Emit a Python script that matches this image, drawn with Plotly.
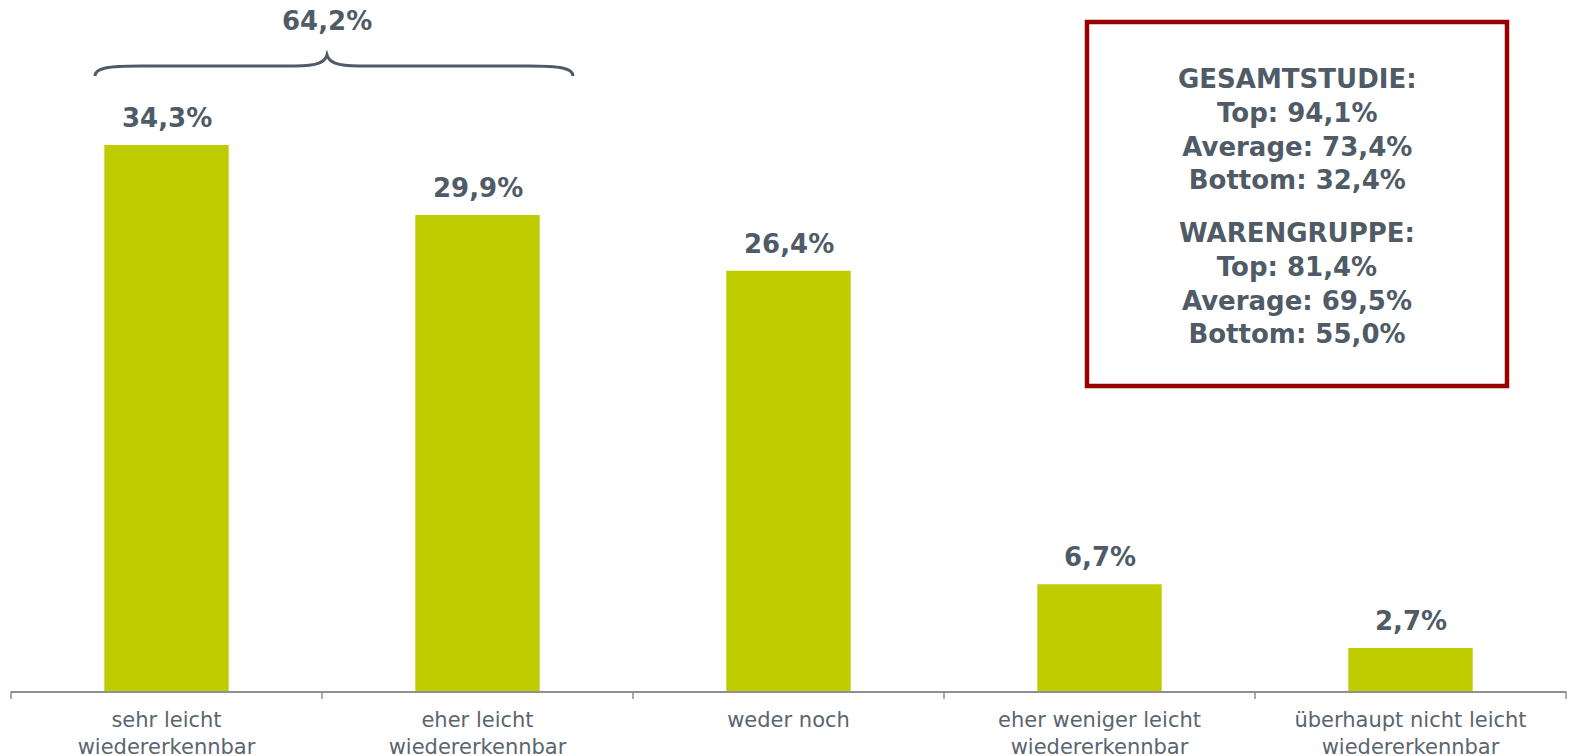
import plotly.graph_objects as go

# ---- data ----
categories = ["sehr leicht<br>wiedererkennbar", "eher leicht<br>wiedererkennbar", "weder noch",
              "eher weniger leicht<br>wiedererkennbar", "überhaupt nicht leicht<br>wiedererkennbar"]
values = [34.3, 29.9, 26.4, 6.7, 2.7]
top2_label = "64,2%"
box_block1 = ["GESAMTSTUDIE:", "Top: 94,1%", "Average: 73,4%", "Bottom: 32,4%"]
box_block2 = ["WARENGRUPPE:", "Top: 81,4%", "Average: 69,5%", "Bottom: 55,0%"]

W, H = 1569, 756
ML, MR, MT, MB = 11, 3, 0, 65
PW, PH = W - ML - MR, H - MT - MB

BAR = "#bfcd00"
TXT = "#4f5b66"
LBL = "#5a6570"
FONT = "DejaVu Sans"


def px(x):
    return (x - ML) / PW


def py(y):
    return (MT + PH - y) / PH


def fmt(v):
    return f"{v:.1f}".replace(".", ",") + "%"


fig = go.Figure()
fig.add_trace(go.Bar(x=list(range(len(categories))), y=values, marker_color=BAR,
                     marker_line_width=0, hoverinfo="skip"))

for i, v in enumerate(values):
    fig.add_annotation(x=i, y=v, xref="x", yref="y", text=f"<b>{fmt(v)}</b>",
                       showarrow=False, yanchor="bottom", xanchor="center", yshift=10,
                       font=dict(family=FONT, size=26, color=TXT))

# brace over the first two bars
pts = [(95, 76), (95, 68), (108, 66), (140, 66), (295, 66), (318, 66), (325, 62), (327, 55),
       (329, 62), (336, 66), (359, 66), (528, 66), (560, 66), (573, 68), (573, 76)]
P = [(px(a), py(b)) for a, b in pts]
path = (f"M {P[0][0]},{P[0][1]} C {P[1][0]},{P[1][1]} {P[2][0]},{P[2][1]} {P[3][0]},{P[3][1]} "
        f"L {P[4][0]},{P[4][1]} C {P[5][0]},{P[5][1]} {P[6][0]},{P[6][1]} {P[7][0]},{P[7][1]} "
        f"C {P[8][0]},{P[8][1]} {P[9][0]},{P[9][1]} {P[10][0]},{P[10][1]} "
        f"L {P[11][0]},{P[11][1]} C {P[12][0]},{P[12][1]} {P[13][0]},{P[13][1]} {P[14][0]},{P[14][1]}")
fig.add_shape(type="path", path=path, xref="paper", yref="paper",
              line=dict(color=TXT, width=3))
fig.add_annotation(x=px(327), y=py(21), xref="paper", yref="paper", text=f"<b>{top2_label}</b>",
                   showarrow=False, xanchor="center", yanchor="middle",
                   font=dict(family=FONT, size=26, color=TXT))

# info box
fig.add_shape(type="rect", xref="paper", yref="paper", x0=px(1087), x1=px(1507),
              y0=py(386), y1=py(22), line=dict(color="#9b0000", width=4.5),
              fillcolor="rgba(0,0,0,0)")
fig.add_annotation(x=px(1297), y=py(129.5), xref="paper", yref="paper",
                   text="<br>".join(f"<b>{s}</b>" for s in box_block1), showarrow=False,
                   align="center", xanchor="center", yanchor="middle",
                   font=dict(family=FONT, size=26, color=TXT))
fig.add_annotation(x=px(1297), y=py(283), xref="paper", yref="paper",
                   text="<br>".join(f"<b>{s}</b>" for s in box_block2), showarrow=False,
                   align="center", xanchor="center", yanchor="middle",
                   font=dict(family=FONT, size=26, color=TXT))

fig.update_layout(
    width=W, height=H, margin=dict(l=ML, r=MR, t=MT, b=MB, autoexpand=False),
    plot_bgcolor="white", paper_bgcolor="white", showlegend=False, bargap=0.6,
    xaxis=dict(tickmode="array", tickvals=list(range(len(categories))), ticktext=categories,
               range=[-0.5, len(categories) - 0.5], showline=True, linecolor="#8c9196",
               linewidth=1.5, ticks="", showgrid=False, zeroline=False, ticklabelstandoff=9,
               automargin=False, tickfont=dict(family=FONT, size=21, color=LBL)),
    yaxis=dict(range=[0, PH / 15.918], visible=False, showgrid=False, automargin=False),
)

# boundary ticks
for k in range(len(categories) + 1):
    xb = k / len(categories)
    fig.add_shape(type="line", xref="paper", yref="paper", x0=xb, x1=xb, y0=0, y1=-8 / PH,
                  line=dict(color="#8c9196", width=1.5))

fig.write_html("out.html")
